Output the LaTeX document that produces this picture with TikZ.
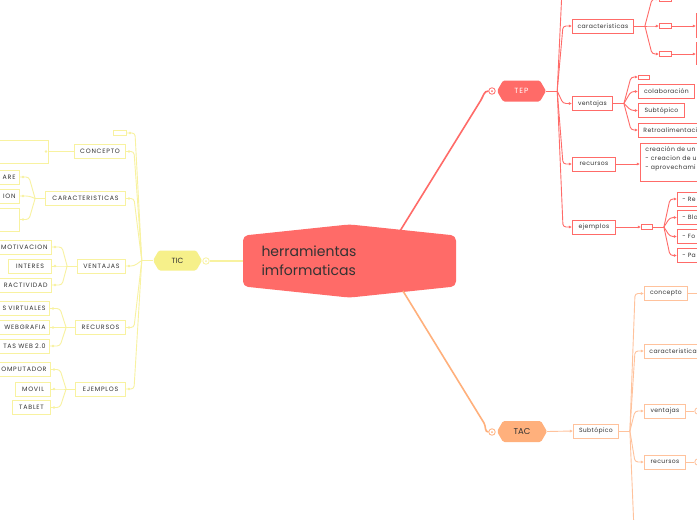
\documentclass[tikz,border=0pt]{standalone}
\usepackage{fontspec}
\setmainfont{Poppins}
\newfontfamily\capsfont[LetterSpace=12]{Poppins}
\newfontfamily\lowfont[LetterSpace=6]{Poppins}
\usetikzlibrary{shapes.symbols,arrows.meta}

\definecolor{ticyel}{HTML}{F6F08A}
\definecolor{ticedge}{HTML}{F8F2A0}
\definecolor{tepred}{HTML}{FF6B68}
\definecolor{tacorg}{HTML}{FFB07C}
\definecolor{tacedge}{HTML}{FFC29C}
\definecolor{ink}{HTML}{333333}

\tikzset{
  rootnode/.style={signal, signal to=north and south, signal pointer angle=168,
    minimum width=213pt, minimum height=70pt, rounded corners=5pt, fill=tepred,
    text width=176pt, align=left, text=ink, font=\fontsize{14}{19}\selectfont},
  hub/.style={signal, signal to=east and west, signal pointer angle=120,
    rounded corners=1.5pt, inner sep=0pt, text=ink},
  ring/.style={circle, draw=#1, line width=0.8pt, fill=white, minimum size=6.5pt, inner sep=0pt,
    path picture={\fill[#1] (path picture bounding box.center) circle (1pt);}},
  ticbox/.style={draw=ticedge, line width=0.9pt, fill=white, text=ink,
    font=\capsfont\fontsize{6.3}{7}\selectfont, minimum height=14pt,
    inner xsep=4pt, inner ysep=0pt, anchor=east},
  ticcut/.style={ticbox, text width=60pt, align=right},
  ticlink/.style={draw=ticedge, line width=0.9pt, rounded corners=3pt},
  tepbox/.style={draw=tepred, line width=0.9pt, fill=white, text=ink,
    font=\lowfont\fontsize{6.1}{9}\selectfont, minimum height=14pt,
    inner xsep=5pt, inner ysep=0pt, anchor=west},
  tepcut/.style={tepbox, text width=60pt, align=left},
  teplink/.style={draw=tepred, line width=0.9pt, rounded corners=3pt},
  tacbox/.style={tepbox, draw=tacedge},
  taclink/.style={draw=tacedge, line width=0.9pt, rounded corners=3pt},
  tip/.style={-{Latex[length=3.2pt,width=3.2pt]}}
}

\begin{document}
\begin{tikzpicture}[x=1pt,y=-1pt]
\useasboundingbox[fill=white] (0,0) rectangle (697,520);

% centre and main branches
\node[rootnode] (root) at (349.5,261) {herramientas\\imformaticas};
\node[hub, fill=ticyel, minimum width=49pt, minimum height=20pt, font=\fontsize{7.5}{8}\selectfont] (tic) at (177.5,260.5) {TIC};
\node[ring=ticedge] (ticring) at (206,261) {};
\node[hub, fill=tepred, text=white, minimum width=49pt, minimum height=21pt, font=\capsfont\fontsize{7.5}{8}\selectfont] (tep) at (521.5,91) {TEP};
\node[ring=tepred] (tepring) at (492,91) {};
\node[hub, fill=tacorg, minimum width=50pt, minimum height=21pt, font=\fontsize{8.5}{9}\selectfont] (tac) at (522,431.5) {TAC};
\node[ring=tacorg] (tacring) at (492,432) {};

\coordinate (tepfoot) at (400,231);
\coordinate (tacfoot) at (403,291);
\draw[ticedge, line width=1.6pt] (root.west) -- (ticring.east);
\draw[tepred, line width=1.6pt] (tepfoot) -- (481,100) to[out=58,in=180] (tepring.west);
\draw[tacorg, line width=1.6pt] (tacfoot) -- (484,423) to[out=-58,in=180] (tacring.west);

% TIC side
\node[ticbox, minimum width=13pt, minimum height=5pt] (ticmini) at (127,133) {};
\node[ticbox, minimum width=51pt] (ticconcepto) at (126,151.5) {CONCEPTO};
\node[ticbox, minimum width=70pt, minimum height=23pt] (ticdef) at (49,151.5) {};
\node[ticbox, minimum width=80pt] (ticcarac) at (126,198.5) {CARACTERISTICAS};
\node[ticcut] (carone) at (20,177) {ARE};
\node[ticcut] (cartwo) at (20,196) {ION};
\node[ticbox, minimum width=40pt, minimum height=23pt] (carthree) at (20,219.5) {};
\node[ticbox, minimum width=48pt] (ticvent) at (126,266) {VENTAJAS};
\node[ticcut] (ventone) at (52,247) {MOTIVACION};
\node[ticbox, minimum width=43pt] (venttwo) at (52,266) {INTERES};
\node[ticcut] (ventthree) at (52,285) {RACTIVIDAD};
\node[ticbox, minimum width=50pt] (ticrec) at (126,327.5) {RECURSOS};
\node[ticcut] (recone) at (50,308.5) {S VIRTUALES};
\node[ticcut] (rectwo) at (50,327.5) {WEBGRAFIA};
\node[ticcut] (recthree) at (50,346) {TAS WEB 2.0};
\node[ticbox, minimum width=50pt] (ticejem) at (126,389) {EJEMPLOS};
\node[ticcut] (ejone) at (51,369.5) {OMPUTADOR};
\node[ticbox, minimum width=35pt] (ejtwo) at (51,389) {MOVIL};
\node[ticbox, minimum width=38pt] (ejthree) at (51,407.5) {TABLET};

\draw[ticlink] (tic.west) -- ++(-11,0) coordinate (ticfork);
\foreach \b in {ticmini,ticconcepto,ticcarac,ticvent,ticrec,ticejem}
  \draw[ticlink] (ticfork) -- ([xshift=8]\b.east) -- (\b.east);
\draw[ticlink] (ticconcepto.west) -- (ticdef.east);
\draw[ticlink] (ticcarac.west) -- ++(-10,0) coordinate (carfork);
\foreach \b in {carone,cartwo,carthree}
  \draw[ticlink] (carfork) -- ([xshift=9]\b.east) -- (\b.east);
\draw[ticlink] (ticvent.west) -- ++(-10,0) coordinate (ventfork);
\foreach \b in {ventone,venttwo,ventthree}
  \draw[ticlink] (ventfork) -- ([xshift=10]\b.east) -- (\b.east);
\draw[ticlink] (ticrec.west) -- ++(-9,0) coordinate (recfork);
\foreach \b in {recone,rectwo,recthree}
  \draw[ticlink] (recfork) -- ([xshift=10]\b.east) -- (\b.east);
\draw[ticlink] (ticejem.west) -- ++(-9,0) coordinate (ejfork);
\foreach \b in {ejone,ejtwo,ejthree}
  \draw[ticlink] (ejfork) -- ([xshift=9]\b.east) -- (\b.east);
\foreach \b in {ticmini,ticconcepto,ticcarac,ticvent,ticrec,ticejem,carone,cartwo,carthree,ventone,venttwo,ventthree,recone,rectwo,recthree,ejone,ejtwo,ejthree}
  \fill[ticedge] ([xshift=3]\b.east) circle (1.4pt);
\fill[ticedge] ([xshift=-3]ticdef.east) circle (1.4pt);

% TEP side
\node[tepbox, minimum width=61pt] (tepcarac) at (572,26) {caracteristicas};
\node[tepbox, minimum width=40pt] (tepvent) at (572,103.5) {ventajas};
\node[tepbox, minimum width=43pt] (teprec) at (572,164) {recursos};
\node[tepbox, minimum width=43pt] (tepejem) at (572,227) {ejemplos};
\coordinate (tepup) at (562,-10);

\node[tepbox, minimum width=12pt, minimum height=5pt] (carmtop) at (659,-1) {};
\node[tepbox, minimum width=12pt, minimum height=5pt] (carmmid) at (659,26) {};
\node[tepbox, minimum width=12pt, minimum height=5pt] (carmlow) at (659,54) {};
\node[tepbox, minimum width=30pt, minimum height=24pt] (carrmid) at (696,25) {};
\node[tepbox, minimum width=30pt, minimum height=22pt] (carrlow) at (696,53) {};

\node[tepbox, minimum width=11pt, minimum height=4pt] (ventmini) at (638,77) {};
\node[tepbox, minimum width=56pt] (ventcol) at (638,91.5) {colaboración};
\node[tepbox, minimum width=46pt] (ventsub) at (638,110.5) {Subtópico};
\node[tepcut] (ventretro) at (638,130) {Retroalimentaci};

\node[tepcut, anchor=north west, inner ysep=3pt] (recnote) at (640,143) {creación de un\\- creacion de u\\- aprovechami\\\mbox{}};

\node[tepbox, minimum width=11pt, minimum height=5pt] (ejmini) at (641,227) {};
\node[tepcut] (ejre) at (677,199) {- Re};
\node[tepcut] (ejbl) at (677,217.5) {- Blo};
\node[tepcut] (ejfo) at (677,236.5) {- Fo};
\node[tepcut] (ejpa) at (677,255.5) {- Pa};

\draw[teplink] (tep.east) -- ++(11,0) coordinate (tepfork);
\draw[teplink] (tepfork) -- (tepup);
\foreach \b in {tepcarac,tepvent,teprec,tepejem}
  \draw[teplink, tip] (tepfork) -- ([xshift=-9]\b.west) -- (\b.west);
\draw[teplink] (tepcarac.east) -- ++(11,0) coordinate (caracfork);
\foreach \b in {carmtop,carmmid,carmlow}
  \draw[teplink, tip] (caracfork) -- ([xshift=-7]\b.west) -- (\b.west);
\draw[teplink, tip] (carmmid.east) -- (carmmid.east -| carrmid.west);
\draw[teplink, tip] (carmlow.east) -- (carmlow.east -| carrlow.west);
\draw[teplink] (tepvent.east) -- ++(11,0) coordinate (ventfork2);
\foreach \b in {ventmini,ventcol,ventsub,ventretro}
  \draw[teplink, tip] (ventfork2) -- ([xshift=-7]\b.west) -- (\b.west);
\draw[teplink, tip] (teprec.east) -- (recnote.west |- teprec.east);
\draw[teplink, tip] (tepejem.east) -- (ejmini.west);
\draw[teplink] (ejmini.east) -- ++(11,0) coordinate (ejfork2);
\foreach \b in {ejre,ejbl,ejfo,ejpa}
  \draw[teplink, tip] (ejfork2) -- ([xshift=-7]\b.west) -- (\b.west);

% TAC side
\node[tacbox, minimum width=45pt] (tacsub) at (573,431) {Subtópico};
\node[tacbox, minimum width=43pt] (taccon) at (644,293.5) {concepto};
\node[tacbox, text width=60pt, align=left] (taccar) at (644,351) {caracteristica};
\node[tacbox, minimum width=41pt] (tacvent) at (644,411) {ventajas};
\node[tacbox, minimum width=41pt] (tacrec) at (644,462) {recursos};
\node[ring=tacedge] (tacvring) at (698,411) {};
\node[ring=tacedge] (tacrring) at (698,462) {};
\coordinate (tacdown) at (634,530);
\coordinate (tacconout) at (700,293.5);

\draw[taclink, tip] (tac.east) -- (tacsub.west);
\draw[taclink] (tacsub.east) -- ++(11,0) coordinate (tacfork);
\draw[taclink] (tacfork) -- (tacdown);
\foreach \b in {taccon,taccar,tacvent,tacrec}
  \draw[taclink, tip] (tacfork) -- ([xshift=-9]\b.west) -- (\b.west);
\draw[taclink] (taccon.east) -- (tacconout);
\draw[taclink] (tacvent.east) -- (tacvring.west);
\draw[taclink] (tacrec.east) -- (tacrring.west);
\end{tikzpicture}
\end{document}
